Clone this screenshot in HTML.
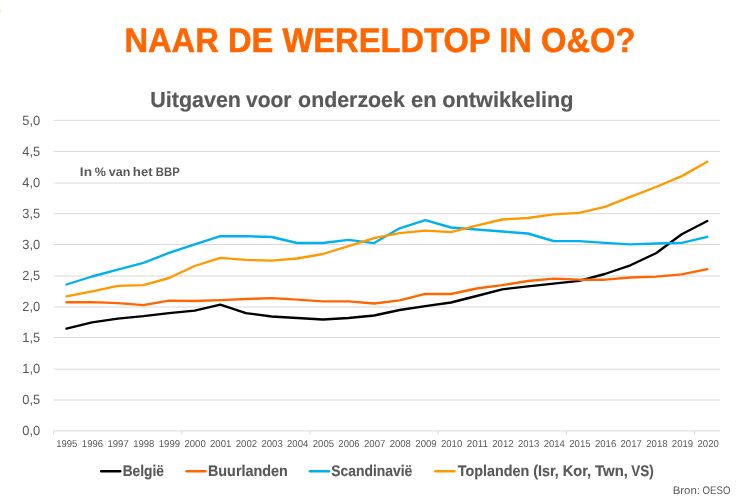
<!DOCTYPE html><html><head><meta charset="utf-8"><title>O&amp;O</title><style>html,body{margin:0;padding:0;background:#fff;overflow:hidden}svg{display:block}text{font-family:"Liberation Sans",sans-serif;text-rendering:geometricPrecision}</style></head><body>
<svg width="756" height="504" viewBox="0 0 756 504">
<rect width="756" height="504" fill="#fff"/>
<defs><radialGradient id="g"><stop offset="0" stop-color="#ffe9bb"/><stop offset="1" stop-color="#ffe9bb" stop-opacity="0"/></radialGradient></defs>
<ellipse cx="-0.3" cy="10.9" rx="2.6" ry="3.4" fill="url(#g)"/>
<line x1="53.7" x2="720.1" y1="430.90" y2="430.90" stroke="#d9d9d9" stroke-width="1"/>
<line x1="53.7" x2="720.1" y1="400.00" y2="400.00" stroke="#d9d9d9" stroke-width="1"/>
<line x1="53.7" x2="720.1" y1="369.15" y2="369.15" stroke="#d9d9d9" stroke-width="1"/>
<line x1="53.7" x2="720.1" y1="337.60" y2="337.60" stroke="#d9d9d9" stroke-width="1"/>
<line x1="53.7" x2="720.1" y1="307.00" y2="307.00" stroke="#d9d9d9" stroke-width="1"/>
<line x1="53.7" x2="720.1" y1="276.00" y2="276.00" stroke="#d9d9d9" stroke-width="1"/>
<line x1="53.7" x2="720.1" y1="244.50" y2="244.50" stroke="#d9d9d9" stroke-width="1"/>
<line x1="53.7" x2="720.1" y1="213.70" y2="213.70" stroke="#d9d9d9" stroke-width="1"/>
<line x1="53.7" x2="720.1" y1="183.00" y2="183.00" stroke="#d9d9d9" stroke-width="1"/>
<line x1="53.7" x2="720.1" y1="151.40" y2="151.40" stroke="#d9d9d9" stroke-width="1"/>
<line x1="53.7" x2="720.1" y1="120.40" y2="120.40" stroke="#d9d9d9" stroke-width="1"/>
<line x1="53.70" x2="53.70" y1="430.90" y2="434.80" stroke="#d9d9d9" stroke-width="1"/>
<line x1="181.85" x2="181.85" y1="430.90" y2="434.80" stroke="#d9d9d9" stroke-width="1"/>
<line x1="310.01" x2="310.01" y1="430.90" y2="434.80" stroke="#d9d9d9" stroke-width="1"/>
<line x1="438.16" x2="438.16" y1="430.90" y2="434.80" stroke="#d9d9d9" stroke-width="1"/>
<line x1="566.32" x2="566.32" y1="430.90" y2="434.80" stroke="#d9d9d9" stroke-width="1"/>
<line x1="694.47" x2="694.47" y1="430.90" y2="434.80" stroke="#d9d9d9" stroke-width="1"/>
<text x="22.3" y="435" font-size="13.3" fill="#595959" textLength="17.9" lengthAdjust="spacingAndGlyphs">0,0</text>
<text x="22.3" y="404" font-size="13.3" fill="#595959" textLength="17.9" lengthAdjust="spacingAndGlyphs">0,5</text>
<text x="22.3" y="373" font-size="13.3" fill="#595959" textLength="17.9" lengthAdjust="spacingAndGlyphs">1,0</text>
<text x="22.3" y="342" font-size="13.3" fill="#595959" textLength="17.9" lengthAdjust="spacingAndGlyphs">1,5</text>
<text x="22.3" y="311" font-size="13.3" fill="#595959" textLength="17.9" lengthAdjust="spacingAndGlyphs">2,0</text>
<text x="22.3" y="280" font-size="13.3" fill="#595959" textLength="17.9" lengthAdjust="spacingAndGlyphs">2,5</text>
<text x="22.3" y="249" font-size="13.3" fill="#595959" textLength="17.9" lengthAdjust="spacingAndGlyphs">3,0</text>
<text x="22.3" y="218" font-size="13.3" fill="#595959" textLength="17.9" lengthAdjust="spacingAndGlyphs">3,5</text>
<text x="22.3" y="187" font-size="13.3" fill="#595959" textLength="17.9" lengthAdjust="spacingAndGlyphs">4,0</text>
<text x="22.3" y="156" font-size="13.3" fill="#595959" textLength="17.9" lengthAdjust="spacingAndGlyphs">4,5</text>
<text x="22.3" y="125" font-size="13.3" fill="#595959" textLength="17.9" lengthAdjust="spacingAndGlyphs">5,0</text>
<text x="66.8" y="447" font-size="10" fill="#595959" text-anchor="middle" textLength="21.3" lengthAdjust="spacingAndGlyphs">1995</text>
<text x="92.5" y="447" font-size="10" fill="#595959" text-anchor="middle" textLength="21.3" lengthAdjust="spacingAndGlyphs">1996</text>
<text x="118.1" y="447" font-size="10" fill="#595959" text-anchor="middle" textLength="21.3" lengthAdjust="spacingAndGlyphs">1997</text>
<text x="143.8" y="447" font-size="10" fill="#595959" text-anchor="middle" textLength="21.3" lengthAdjust="spacingAndGlyphs">1998</text>
<text x="169.4" y="447" font-size="10" fill="#595959" text-anchor="middle" textLength="21.3" lengthAdjust="spacingAndGlyphs">1999</text>
<text x="195.1" y="447" font-size="10" fill="#595959" text-anchor="middle" textLength="21.3" lengthAdjust="spacingAndGlyphs">2000</text>
<text x="220.7" y="447" font-size="10" fill="#595959" text-anchor="middle" textLength="21.3" lengthAdjust="spacingAndGlyphs">2001</text>
<text x="246.4" y="447" font-size="10" fill="#595959" text-anchor="middle" textLength="21.3" lengthAdjust="spacingAndGlyphs">2002</text>
<text x="272.1" y="447" font-size="10" fill="#595959" text-anchor="middle" textLength="21.3" lengthAdjust="spacingAndGlyphs">2003</text>
<text x="297.7" y="447" font-size="10" fill="#595959" text-anchor="middle" textLength="21.3" lengthAdjust="spacingAndGlyphs">2004</text>
<text x="323.4" y="447" font-size="10" fill="#595959" text-anchor="middle" textLength="21.3" lengthAdjust="spacingAndGlyphs">2005</text>
<text x="349.0" y="447" font-size="10" fill="#595959" text-anchor="middle" textLength="21.3" lengthAdjust="spacingAndGlyphs">2006</text>
<text x="374.7" y="447" font-size="10" fill="#595959" text-anchor="middle" textLength="21.3" lengthAdjust="spacingAndGlyphs">2007</text>
<text x="400.3" y="447" font-size="10" fill="#595959" text-anchor="middle" textLength="21.3" lengthAdjust="spacingAndGlyphs">2008</text>
<text x="426.0" y="447" font-size="10" fill="#595959" text-anchor="middle" textLength="21.3" lengthAdjust="spacingAndGlyphs">2009</text>
<text x="451.6" y="447" font-size="10" fill="#595959" text-anchor="middle" textLength="21.3" lengthAdjust="spacingAndGlyphs">2010</text>
<text x="477.3" y="447" font-size="10" fill="#595959" text-anchor="middle" textLength="21.3" lengthAdjust="spacingAndGlyphs">2011</text>
<text x="502.9" y="447" font-size="10" fill="#595959" text-anchor="middle" textLength="21.3" lengthAdjust="spacingAndGlyphs">2012</text>
<text x="528.6" y="447" font-size="10" fill="#595959" text-anchor="middle" textLength="21.3" lengthAdjust="spacingAndGlyphs">2013</text>
<text x="554.3" y="447" font-size="10" fill="#595959" text-anchor="middle" textLength="21.3" lengthAdjust="spacingAndGlyphs">2014</text>
<text x="579.9" y="447" font-size="10" fill="#595959" text-anchor="middle" textLength="21.3" lengthAdjust="spacingAndGlyphs">2015</text>
<text x="605.6" y="447" font-size="10" fill="#595959" text-anchor="middle" textLength="21.3" lengthAdjust="spacingAndGlyphs">2016</text>
<text x="631.2" y="447" font-size="10" fill="#595959" text-anchor="middle" textLength="21.3" lengthAdjust="spacingAndGlyphs">2017</text>
<text x="656.9" y="447" font-size="10" fill="#595959" text-anchor="middle" textLength="21.3" lengthAdjust="spacingAndGlyphs">2018</text>
<text x="682.5" y="447" font-size="10" fill="#595959" text-anchor="middle" textLength="21.3" lengthAdjust="spacingAndGlyphs">2019</text>
<text x="708.2" y="447" font-size="10" fill="#595959" text-anchor="middle" textLength="21.3" lengthAdjust="spacingAndGlyphs">2020</text>
<path d="M66.5,328.6 L92.1,322.4 L117.8,318.6 L143.4,316.2 L169.0,313.1 L194.7,310.6 L220.3,304.6 L245.9,313.1 L271.6,316.5 L297.2,318.0 L322.8,319.5 L348.5,318.0 L374.1,315.5 L399.7,310.0 L425.3,306.2 L451.0,302.5 L476.6,296.0 L502.2,289.3 L527.9,286.3 L553.5,283.7 L579.1,280.8 L604.8,274.0 L630.4,265.3 L656.0,253.2 L681.7,234.3 L707.3,221.0" fill="none" stroke="#000000" stroke-width="2.35" stroke-linejoin="round" stroke-linecap="round"/>
<path d="M66.5,302.2 L92.1,302.2 L117.8,303.1 L143.4,305.2 L169.0,300.7 L194.7,301.0 L220.3,300.2 L245.9,299.0 L271.6,298.2 L297.2,299.7 L322.8,301.3 L348.5,301.3 L374.1,303.5 L399.7,300.4 L425.3,293.8 L451.0,294.0 L476.6,288.5 L502.2,285.2 L527.9,281.0 L553.5,278.7 L579.1,279.7 L604.8,279.7 L630.4,277.5 L656.0,276.7 L681.7,274.3 L707.3,269.1" fill="none" stroke="#ff6600" stroke-width="2.35" stroke-linejoin="round" stroke-linecap="round"/>
<path d="M66.5,284.5 L92.1,276.5 L117.8,269.7 L143.4,262.9 L169.0,252.9 L194.7,244.3 L220.3,236.2 L245.9,236.2 L271.6,237.0 L297.2,243.0 L322.8,243.0 L348.5,239.9 L374.1,243.1 L399.7,228.3 L425.3,220.1 L451.0,227.5 L476.6,229.5 L502.2,231.5 L527.9,233.5 L553.5,241.0 L579.1,241.2 L604.8,242.8 L630.4,244.3 L656.0,243.5 L681.7,242.8 L707.3,236.8" fill="none" stroke="#00b0f0" stroke-width="2.35" stroke-linejoin="round" stroke-linecap="round"/>
<path d="M66.5,296.3 L92.1,291.4 L117.8,285.8 L143.4,285.2 L169.0,278.0 L194.7,266.0 L220.3,257.9 L245.9,259.8 L271.6,260.7 L297.2,258.5 L322.8,254.0 L348.5,246.2 L374.1,238.1 L399.7,233.1 L425.3,230.7 L451.0,232.2 L476.6,225.7 L502.2,219.5 L527.9,218.0 L553.5,214.4 L579.1,212.8 L604.8,206.8 L630.4,196.8 L656.0,187.0 L681.7,176.1 L707.3,161.8" fill="none" stroke="#ff9900" stroke-width="2.35" stroke-linejoin="round" stroke-linecap="round"/>
<text x="124.4" y="52" font-size="34.3" font-weight="bold" fill="#ff6600" stroke="#ff6600" stroke-width="0.5" textLength="511" lengthAdjust="spacingAndGlyphs">NAAR DE WERELDTOP IN O&amp;O?</text>
<text y="107" font-size="21.7" font-weight="bold" fill="#595959" stroke="#595959" stroke-width="0.2"><tspan x="150.27" textLength="90.73" lengthAdjust="spacingAndGlyphs">Uitgaven</tspan> <tspan x="246.07" textLength="45.39" lengthAdjust="spacingAndGlyphs">voor</tspan> <tspan x="298.12" textLength="106.76" lengthAdjust="spacingAndGlyphs">onderzoek</tspan> <tspan x="410.95" textLength="25.59" lengthAdjust="spacingAndGlyphs">en</tspan> <tspan x="442.36" textLength="131.19" lengthAdjust="spacingAndGlyphs">ontwikkeling</tspan></text>
<text y="176" font-size="12.4" font-weight="bold" fill="#595959"><tspan x="79.83" textLength="12.17" lengthAdjust="spacingAndGlyphs">In</tspan> <tspan x="94.68" textLength="11.15" lengthAdjust="spacingAndGlyphs">%</tspan> <tspan x="108.82" textLength="21.48" lengthAdjust="spacingAndGlyphs">van</tspan> <tspan x="132.85" textLength="19.79" lengthAdjust="spacingAndGlyphs">het</tspan> <tspan x="155.85" textLength="23.81" lengthAdjust="spacingAndGlyphs">BBP</tspan></text>
<line x1="101.2" x2="120.2" y1="471.2" y2="471.2" stroke="#000000" stroke-width="2.4" stroke-linecap="round"/>
<text y="476" font-size="15.4" font-weight="bold" fill="#595959" stroke="#595959" stroke-width="0.15"><tspan x="122.64" textLength="41.26" lengthAdjust="spacingAndGlyphs">België</tspan></text>
<line x1="186.5" x2="205.4" y1="471.2" y2="471.2" stroke="#ff6600" stroke-width="2.4" stroke-linecap="round"/>
<text y="476" font-size="15.4" font-weight="bold" fill="#595959" stroke="#595959" stroke-width="0.15"><tspan x="207.96" textLength="79.87" lengthAdjust="spacingAndGlyphs">Buurlanden</tspan></text>
<line x1="309.8" x2="329.0" y1="471.2" y2="471.2" stroke="#00b0f0" stroke-width="2.4" stroke-linecap="round"/>
<text y="476" font-size="15.4" font-weight="bold" fill="#595959" stroke="#595959" stroke-width="0.15"><tspan x="331.35" textLength="80.95" lengthAdjust="spacingAndGlyphs">Scandinavië</tspan></text>
<line x1="435.3" x2="454.4" y1="471.2" y2="471.2" stroke="#ff9900" stroke-width="2.4" stroke-linecap="round"/>
<text y="476" font-size="15.4" font-weight="bold" fill="#595959" stroke="#595959" stroke-width="0.15"><tspan x="457.75" textLength="71.42" lengthAdjust="spacingAndGlyphs">Toplanden</tspan> <tspan x="533.25" textLength="25.64" lengthAdjust="spacingAndGlyphs">(Isr,</tspan> <tspan x="562.79" textLength="28.35" lengthAdjust="spacingAndGlyphs">Kor,</tspan> <tspan x="595.05" textLength="32.92" lengthAdjust="spacingAndGlyphs">Twn,</tspan> <tspan x="631.37" textLength="22.42" lengthAdjust="spacingAndGlyphs">VS)</tspan></text>
<text y="494" font-size="11" fill="#595959"><tspan x="672.71" textLength="27.28" lengthAdjust="spacingAndGlyphs">Bron:</tspan> <tspan x="702.60" textLength="27.85" lengthAdjust="spacingAndGlyphs">OESO</tspan></text>
</svg></body></html>
